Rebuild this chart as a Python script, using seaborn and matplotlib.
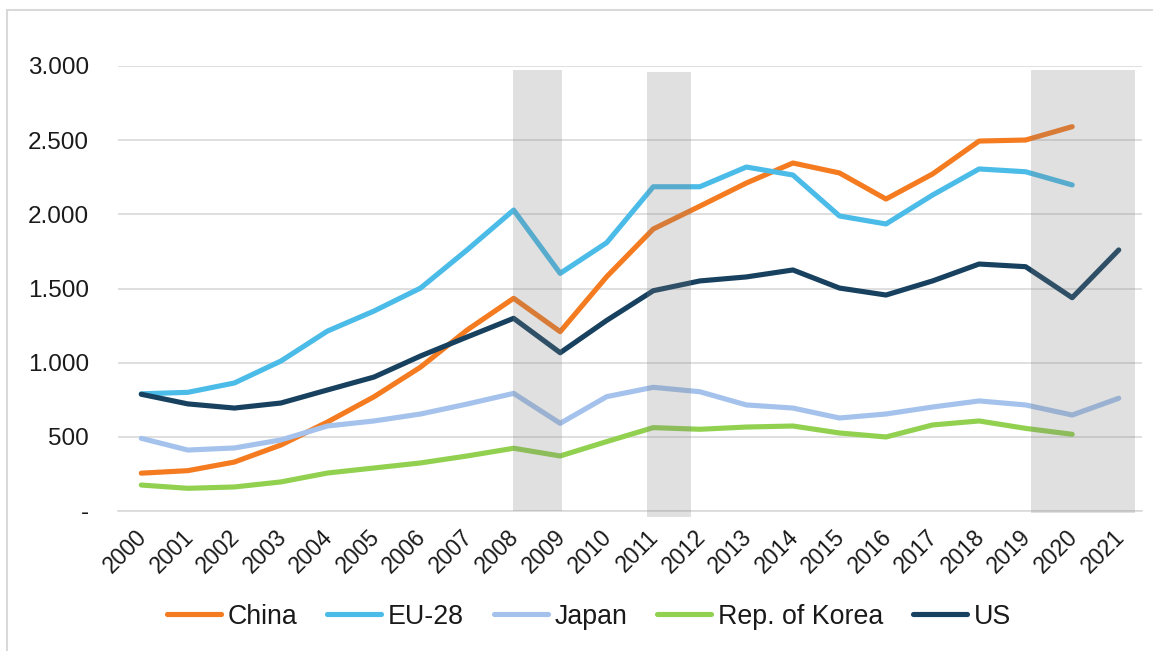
import numpy as np
import pandas as pd
import matplotlib
matplotlib.use("Agg")
import matplotlib.pyplot as plt
import seaborn as sns
from matplotlib.patches import Rectangle
from matplotlib.transforms import ScaledTranslation
from matplotlib.lines import Line2D

years = list(range(2000, 2022))
china = [255, 272, 330, 445, 600, 770, 970, 1220, 1434, 1209, 1580, 1901, 2055, 2211, 2346, 2279,
         2103, 2272, 2494, 2501, 2591, np.nan]
eu28 = [790, 800, 863, 1011, 1213, 1348, 1503, 1760, 2029, 1602, 1809, 2186, 2186, 2319, 2265, 1989,
        1935, 2130, 2306, 2287, 2198, np.nan]
japan = [490, 411, 425, 479, 573, 607, 654, 721, 793, 591, 771, 834, 804, 715, 694, 627,
         654, 701, 742, 715, 647, 760]
korea = [175, 153, 162, 196, 256, 290, 324, 371, 423, 371, 468, 562, 551, 566, 573, 526,
         499, 580, 607, 557, 517, np.nan]
us = [787, 722, 694, 728, 816, 903, 1045, 1173, 1299, 1067, 1285, 1485, 1551, 1578, 1625, 1503,
      1456, 1551, 1665, 1647, 1438, 1760]

series_names = ["China", "EU-28", "Japan", "Rep. of Korea", "US"]
series_values = [china, eu28, japan, korea, us]
colors = ["#F47B20", "#4BBBE8", "#A4C2EC", "#92D050", "#17415F"]

ytick_vals = [0, 500, 1000, 1500, 2000, 2500, 3000]
ytick_labels = ["-", "500", "1.000", "1.500", "2.000", "2.500", "3.000"]

# shaded periods (start, end, top, bottom)
shade_x0 = [2007.99, 2010.86, 2019.11]
shade_x1 = [2009.03, 2011.82, 2021.34]
shade_top = [2973, 2960, 2973]
shade_bot = [0, -38, -16]

rows = []
for name, vals in zip(series_names, series_values):
    for y, v in zip(years, vals):
        rows.append({"Year": y, "Value": v, "Region": name})
df = pd.DataFrame(rows).dropna()

sns.set_theme(style="white")
plt.rcParams["font.family"] = ["Liberation Sans", "DejaVu Sans"]

W, H = 1153, 651
fig = plt.figure(figsize=(W / 100, H / 100), dpi=100)
ax = fig.add_axes([118 / W, 1 - 511 / H, (1142 - 118) / W, (511 - 66) / H])

sns.lineplot(data=df, x="Year", y="Value", hue="Region", hue_order=series_names,
             palette=dict(zip(series_names, colors)), linewidth=3.7, errorbar=None,
             ax=ax, legend=False, zorder=3)
for ln in ax.lines:
    ln.set_solid_capstyle("round")
    ln.set_solid_joinstyle("round")

ax.set_xlim(1999.5, 2021.5)
ax.set_ylim(0, 3000)

for x0, x1, t, b in zip(shade_x0, shade_x1, shade_top, shade_bot):
    ax.add_patch(Rectangle((x0, b), x1 - x0, t - b, facecolor="#7f7f7f", alpha=0.24,
                           edgecolor="none", zorder=5, clip_on=False))

ax.set_yticks(ytick_vals)
ax.set_yticklabels(ytick_labels, fontsize=17.5, color="#1a1a1a")
ax.yaxis.grid(True, color="#d9d9d9", linewidth=1.2, zorder=0)
ax.xaxis.grid(False)
ax.tick_params(axis="y", length=0, pad=21)
ax.tick_params(axis="x", length=0, pad=16)

ax.set_xticks(years)
ax.set_xticklabels([str(y) for y in years], rotation=45, ha="right", va="center",
                   rotation_mode="anchor", fontsize=16.5, color="#1a1a1a")
off = ScaledTranslation(2 / 100, 0, fig.dpi_scale_trans)
for lbl in ax.get_xticklabels():
    lbl.set_transform(lbl.get_transform() + off)

for s in ["top", "right", "left"]:
    ax.spines[s].set_visible(False)
ax.spines["bottom"].set_color("#d9d9d9")
ax.spines["bottom"].set_linewidth(1.2)
ax.set_xlabel("")
ax.set_ylabel("")

handles = [Line2D([0], [0], color=c, lw=3.7, solid_capstyle="round") for c in colors]
fig.legend(handles, series_names, loc="center", bbox_to_anchor=(589 / W, 1 - 616.5 / H),
           ncol=5, frameon=False, fontsize=19.3, handlelength=2.0, handletextpad=0.26,
           columnspacing=1.12, labelcolor="#1a1a1a")

fig.patches.append(Rectangle((7 / W, -0.2), 2, (H - 10) / H + 0.2, transform=fig.transFigure,
                             fill=False, edgecolor="#d9d9d9", linewidth=1.5))

fig.savefig("out.png", dpi=100)
